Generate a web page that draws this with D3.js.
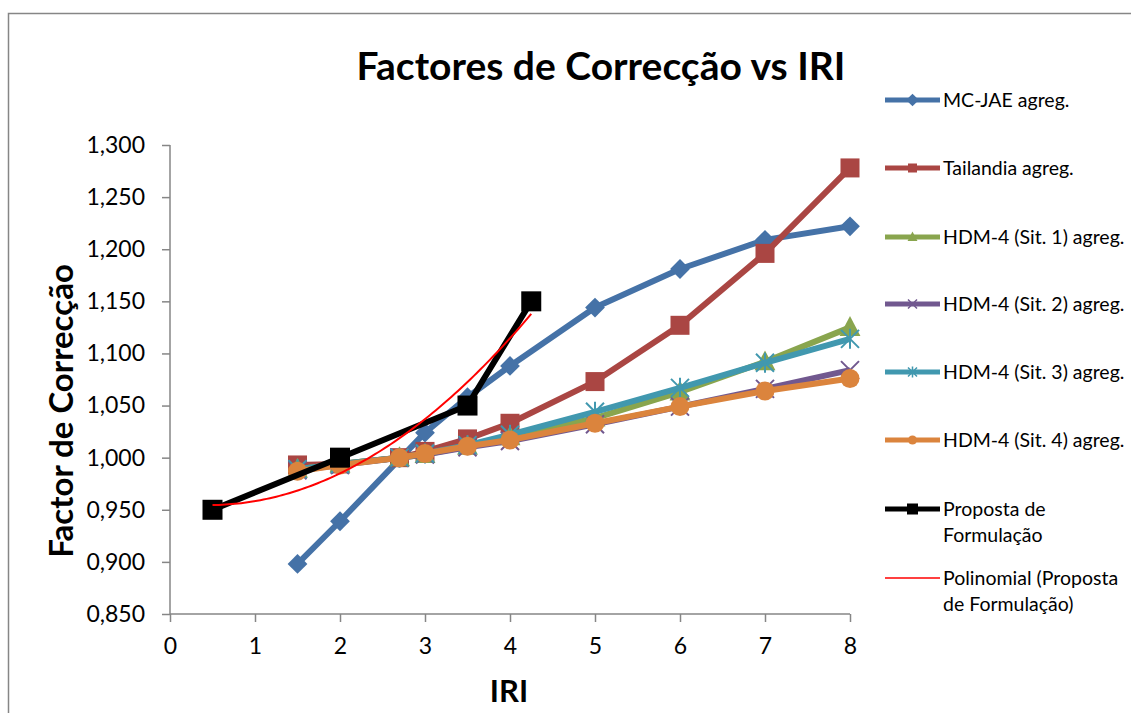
<!DOCTYPE html>
<html>
<head>
<meta charset="utf-8">
<script src="https://cdn.jsdelivr.net/npm/d3@7"></script>
<style>
  body { margin: 0; background: #fff; }
  text { font-family: Lato, "Open Sans", sans-serif; }
</style>
</head>
<body>
<svg></svg>
<script>
///////////////////////////////////////////
// Data
var seriesNames = ["MC-JAE agreg.", "Tailandia agreg.", "HDM-4 (Sit. 1) agreg.",
                   "HDM-4 (Sit. 2) agreg.", "HDM-4 (Sit. 3) agreg.", "HDM-4 (Sit. 4) agreg.",
                   "Proposta de Formulação"];
var trendName = "Polinomial (Proposta de Formulação)";

var iriMcJae = [1.5, 2, 3, 3.5, 4, 5, 6, 7, 8];
var valMcJae = [0.898, 0.939, 1.024, 1.058, 1.088, 1.144, 1.181, 1.209, 1.222];

var iriHdm = [1.5, 2, 2.7, 3, 3.5, 4, 5, 6, 7, 8];
var valTailandia = [0.993, 0.994, 1.000, 1.006, 1.018, 1.033, 1.073, 1.127, 1.196, 1.278];
var valSit1 = [0.989, 0.994, 1.000, 1.003, 1.011, 1.020, 1.038, 1.063, 1.092, 1.125];
var valSit2 = [0.988, 0.993, 1.000, 1.003, 1.010, 1.016, 1.032, 1.049, 1.066, 1.084];
var valSit3 = [0.989, 0.994, 1.000, 1.004, 1.012, 1.022, 1.044, 1.067, 1.091, 1.114];
var valSit4 = [0.987, 0.993, 1.000, 1.004, 1.011, 1.017, 1.033, 1.049, 1.064, 1.076];

var iriProposta = [0.5, 2, 3.5, 4.25];
var valProposta = [0.950, 1.000, 1.050, 1.150];

var xTicks = [0, 1, 2, 3, 4, 5, 6, 7, 8];
var yTicks = [0.85, 0.90, 0.95, 1.00, 1.05, 1.10, 1.15, 1.20, 1.25, 1.30];

var colors = ["#4572a7", "#aa4643", "#89a54e", "#71588f", "#4198af", "#db843d", "#000000"];
var symbols = ["diamond", "square", "triangle", "x", "star", "circle", "square"];

///////////////////////////////////////////
// Layout
var svgWidth = 1131, svgHeight = 713;
var margin = {top: 145, left: 170},
    plotW = 680, plotH = 469;

var svg = d3.select("svg").attr("width", svgWidth).attr("height", svgHeight);

svg.append("rect")
  .attr("x", 8.5).attr("y", 13.5).attr("width", 1130).attr("height", 710)
  .attr("fill", "none").attr("stroke", "#868686").attr("stroke-width", 1.5);

var x = d3.scaleLinear().domain([0, 8]).range([0, plotW]);
var y = d3.scaleLinear().domain([0.85, 1.30]).range([plotH, 0]);

var g = svg.append("g").attr("transform", "translate(" + [margin.left, margin.top] + ")");

var fmt = function(d){ return d3.format(".3f")(d).replace(".", ","); };

var yAxis = g.append("g").call(d3.axisLeft(y).tickValues(yTicks).tickFormat(fmt).tickSize(8).tickPadding(17));
var xAxis = g.append("g").attr("transform", "translate(0," + plotH + ")")
  .call(d3.axisBottom(x).tickValues(xTicks).tickFormat(d3.format("d")).tickSize(8).tickPadding(16));

[xAxis, yAxis].forEach(function(a){
  a.selectAll("path, line").attr("stroke", "#868686").attr("stroke-width", 1.5);
  a.selectAll("text").attr("font-size", 23).attr("fill", "#000")
   .style("font-family", "Lato, 'Open Sans', sans-serif");
});
yAxis.select(".domain").attr("d", "M0,0V" + plotH);
xAxis.select(".domain").attr("d", "M0,0H" + plotW);

// Titles
svg.append("text").attr("x", 601).attr("y", 80).attr("text-anchor", "middle")
  .attr("font-size", 39).attr("font-weight", "bold").text("Factores de Correcção vs IRI");
svg.append("text").attr("transform", "translate(73,411) rotate(-90)").attr("text-anchor", "middle")
  .attr("font-size", 33).attr("font-weight", "bold").text("Factor de Correcção");
svg.append("text").attr("x", 509).attr("y", 702).attr("text-anchor", "middle")
  .attr("font-size", 31).attr("font-weight", "bold").text("IRI");

///////////////////////////////////////////
// Markers
function drawMarker(sel, type, color, s, sw) {
  if (type === "diamond") {
    sel.append("path").attr("d", d3.symbol(d3.symbolSquare, s * s)()).attr("transform", "rotate(45)")
      .attr("fill", color);
  } else if (type === "square") {
    sel.append("rect").attr("x", -s / 2).attr("y", -s / 2).attr("width", s).attr("height", s).attr("fill", color);
  } else if (type === "triangle") {
    sel.append("path").attr("d", "M0," + (-s * 0.6) + "L" + (s * 0.55) + "," + (s * 0.45) + "L" + (-s * 0.55) + "," + (s * 0.45) + "Z")
      .attr("fill", color);
  } else if (type === "circle") {
    sel.append("circle").attr("r", s / 2).attr("fill", color);
  } else if (type === "x") {
    var h = s / 2;
    sel.append("path").attr("d", "M" + (-h) + "," + (-h) + "L" + h + "," + h + "M" + h + "," + (-h) + "L" + (-h) + "," + h)
      .attr("stroke", color).attr("stroke-width", sw);
  } else if (type === "star") {
    var h2 = s / 2;
    sel.append("path").attr("d", "M" + (-h2) + "," + (-h2) + "L" + h2 + "," + h2 + "M" + h2 + "," + (-h2) + "L" + (-h2) + "," + h2 + "M0," + (-h2 - 1) + "V" + (h2 + 1))
      .attr("stroke", color).attr("stroke-width", sw);
  }
}

var allSeries = [
  {xs: iriMcJae, ys: valMcJae},
  {xs: iriHdm, ys: valTailandia},
  {xs: iriHdm, ys: valSit1},
  {xs: iriHdm, ys: valSit2},
  {xs: iriHdm, ys: valSit3},
  {xs: iriHdm, ys: valSit4},
  {xs: iriProposta, ys: valProposta}
];
var markerSize = [14, 19, 19, 18, 18, 19, 20];

var line = d3.line().x(function(d){ return x(d[0]); }).y(function(d){ return y(d[1]); });

allSeries.forEach(function(s, i) {
  var pts = s.xs.map(function(v, j){ return [v, s.ys[j]]; });
  var sg = g.append("g");
  sg.append("path").datum(pts).attr("d", line).attr("fill", "none")
    .attr("stroke", colors[i]).attr("stroke-width", 6).attr("stroke-linejoin", "round");
  pts.forEach(function(p) {
    var m = sg.append("g").attr("transform", "translate(" + [x(p[0]), y(p[1])] + ")");
    drawMarker(m, symbols[i], colors[i], markerSize[i], 2);
  });
});

// Polynomial (order 2) trendline, least squares on Proposta points
function polyFit2(xs, ys) {
  var n = xs.length, S = [0, 0, 0, 0, 0], T = [0, 0, 0];
  for (var i = 0; i < n; i++) {
    for (var k = 0; k < 5; k++) S[k] += Math.pow(xs[i], k);
    for (var k2 = 0; k2 < 3; k2++) T[k2] += ys[i] * Math.pow(xs[i], k2);
  }
  var A = [[S[0], S[1], S[2], T[0]], [S[1], S[2], S[3], T[1]], [S[2], S[3], S[4], T[2]]];
  for (var c = 0; c < 3; c++) {
    for (var r = c + 1; r < 3; r++) {
      var f = A[r][c] / A[c][c];
      for (var q = c; q < 4; q++) A[r][q] -= f * A[c][q];
    }
  }
  var b = [0, 0, 0];
  for (var r2 = 2; r2 >= 0; r2--) {
    var sum = A[r2][3];
    for (var q2 = r2 + 1; q2 < 3; q2++) sum -= A[r2][q2] * b[q2];
    b[r2] = sum / A[r2][r2];
  }
  return b;
}
var coef = polyFit2(iriProposta, valProposta);
var xMin = d3.min(iriProposta), xMax = d3.max(iriProposta);
var trendPts = d3.range(0, 101).map(function(k){
  var xv = xMin + (xMax - xMin) * k / 100;
  return [xv, coef[0] + coef[1] * xv + coef[2] * xv * xv];
});
g.append("path").datum(trendPts).attr("d", line).attr("fill", "none")
  .attr("stroke", "#ff0000").attr("stroke-width", 2);

///////////////////////////////////////////
// Legend
var legendY = [100, 168, 237, 304, 372, 440, 509];
var legend = svg.append("g");
seriesNames.forEach(function(name, i) {
  var lg = legend.append("g").attr("transform", "translate(885," + legendY[i] + ")");
  lg.append("line").attr("x1", 0).attr("x2", 55).attr("stroke", colors[i]).attr("stroke-width", 5);
  var m = lg.append("g").attr("transform", "translate(27.5,0)");
  drawMarker(m, symbols[i], colors[i], i === 6 ? 11 : 9, 1.5);
  var parts = name === "Proposta de Formulação" ? ["Proposta de", "Formulação"] : [name];
  parts.forEach(function(t, k) {
    lg.append("text").attr("x", 58).attr("y", 7 + k * 26).attr("font-size", 19.5).attr("fill", "#000").text(t);
  });
});
var tg = legend.append("g").attr("transform", "translate(885,578)");
tg.append("line").attr("x1", 0).attr("x2", 55).attr("stroke", "#ff0000").attr("stroke-width", 1.5);
["Polinomial (Proposta", "de Formulação)"].forEach(function(t, k) {
  tg.append("text").attr("x", 58).attr("y", 7 + k * 26).attr("font-size", 19.5).attr("fill", "#000").text(t);
});
</script>
</body>
</html>
